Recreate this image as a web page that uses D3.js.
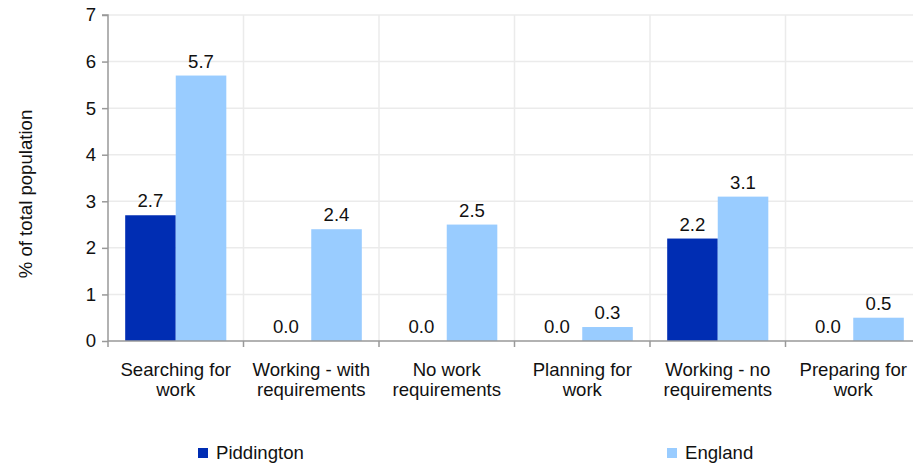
<!DOCTYPE html>
<html><head><meta charset="utf-8">
<script src="https://cdn.jsdelivr.net/npm/d3@7"></script>
<style>body{margin:0;background:#fff}svg{display:block;font-family:"Liberation Sans",Arial,sans-serif}</style>
</head><body><svg id="c" width="913" height="463"></svg>
<script>
const categories = [["Searching for","work"],["Working - with","requirements"],["No work","requirements"],["Planning for","work"],["Working - no","requirements"],["Preparing for","work"]];
const seriesNames = ["Piddington","England"];
const piddington = [2.7,0.0,0.0,0.0,2.2,0.0];
const england = [5.7,2.4,2.5,0.3,3.1,0.5];
const yTicks = [0,1,2,3,4,5,6,7];
const colors = ["#002DB3","#99CCFF"];

const FS = 18.6;
const svg = d3.select("#c");
const L=108, R=921, T=15, B=341;
const x = d3.scaleBand().domain(d3.range(categories.length)).range([L,R]);
const x1 = d3.scaleBand().domain([0,1]).range([0,x.bandwidth()]).paddingInner(0).paddingOuter(0.34);
const y = d3.scaleLinear().domain([0,7]).range([B,T]);

// grid
svg.append("g").selectAll("line").data(yTicks.slice(1)).join("line")
  .attr("x1",L).attr("x2",R).attr("y1",d=>y(d)).attr("y2",d=>y(d))
  .attr("stroke","#ebebeb").attr("stroke-width",1.5);
svg.append("g").selectAll("line").data(d3.range(1,categories.length+1)).join("line")
  .attr("x1",d=>L+d*x.bandwidth()).attr("x2",d=>L+d*x.bandwidth()).attr("y1",T).attr("y2",B)
  .attr("stroke","#ebebeb").attr("stroke-width",1.5);

const series=[piddington,england];
series.forEach((vals,si)=>{
  svg.append("g").selectAll("rect").data(vals).join("rect")
    .attr("x",(d,i)=>x(i)+x1(si)).attr("width",x1.bandwidth())
    .attr("y",d=>y(d)).attr("height",d=>B-y(d)).attr("fill",colors[si]);
  svg.append("g").selectAll("text").data(vals).join("text")
    .attr("x",(d,i)=>x(i)+x1(si)+x1.bandwidth()/2).attr("y",d=>y(d)-8)
    .attr("text-anchor","middle").attr("font-size",FS).attr("fill","#111")
    .text(d=>d.toFixed(1));
});

// y axis
const ya = svg.append("g").attr("transform",`translate(${L},0)`)
  .call(d3.axisLeft(y).tickValues(yTicks).tickSize(6).tickPadding(6).tickFormat(d3.format("d")));
ya.select(".domain").attr("stroke","#999").attr("stroke-width",1.5).attr("d",`M-6,${T}H0V${B}`);
ya.selectAll(".tick line").attr("stroke","#999").attr("stroke-width",1.5);
ya.selectAll(".tick text").attr("font-size",FS).attr("fill","#111").attr("font-family","Liberation Sans, Arial, sans-serif");

// x axis
svg.append("line").attr("x1",L).attr("x2",R).attr("y1",B).attr("y2",B).attr("stroke","#999").attr("stroke-width",1.5);
svg.append("g").selectAll("line").data(d3.range(0,categories.length+1)).join("line")
  .attr("x1",d=>L+d*x.bandwidth()).attr("x2",d=>L+d*x.bandwidth()).attr("y1",B).attr("y2",B+6)
  .attr("stroke","#999").attr("stroke-width",1.5);
const cl = svg.append("g").selectAll("text").data(categories).join("text")
  .attr("text-anchor","middle").attr("font-size",FS).attr("fill","#111")
  .attr("transform",(d,i)=>`translate(${x(i)+x.bandwidth()/2},376)`);
cl.selectAll("tspan").data(d=>d).join("tspan").attr("x",0).attr("dy",(d,j)=>j?20:0).text(d=>d);

// y label
svg.append("text").attr("transform",`translate(32,194) rotate(-90)`)
  .attr("text-anchor","middle").attr("font-size",FS).attr("fill","#111").text("% of total population");

// legend
const legX=[198,667];
seriesNames.forEach((n,i)=>{
  svg.append("rect").attr("x",legX[i]).attr("y",448).attr("width",10).attr("height",10).attr("fill",colors[i]);
  svg.append("text").attr("x",legX[i]+18).attr("y",459).attr("font-size",FS).attr("fill","#111").text(n);
});
</script></body></html>
